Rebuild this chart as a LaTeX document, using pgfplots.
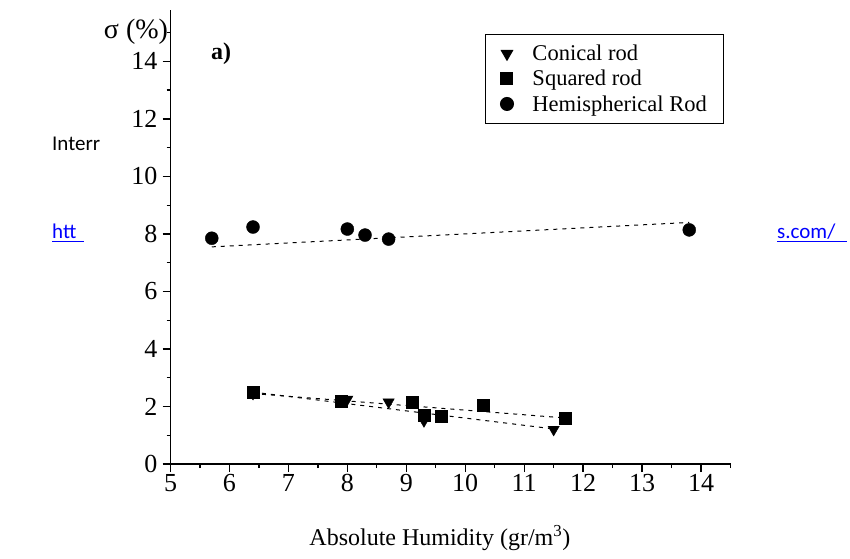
\documentclass[border=0pt]{standalone}
\usepackage{pgfplots}
\pgfplotsset{compat=1.18}
\usepackage{fontspec}
\setmainfont{Liberation Serif}
\newfontfamily\calibri{Carlito}
\definecolor{linkblue}{RGB}{0,0,255}
\begin{document}
\begin{tikzpicture}
\useasboundingbox (0pt,0pt) rectangle (850pt,558pt);
% page text partly hidden behind the chart
\node[anchor=base west, inner sep=0, font=\calibri\fontsize{21}{25}\selectfont] at (52pt,408pt) {Interr};
\node[anchor=base west, inner sep=0, font=\calibri\fontsize{21}{25}\selectfont, text=linkblue] at (52pt,320pt) {htt};
\draw[linkblue, line width=1.5pt] (52pt,316.5pt) -- (84pt,316.5pt);
\node[anchor=base west, inner sep=0, font=\calibri\fontsize{21}{25}\selectfont, text=linkblue] at (777pt,320pt) {s.com/};
\draw[linkblue, line width=1.5pt] (777pt,316.5pt) -- (847pt,316.5pt);
\begin{axis}[
  at={(170.5pt,94pt)}, anchor=south west,
  scale only axis, width=560pt, height=454.4pt,
  xmin=5, xmax=14.5, ymin=0, ymax=15.8,
  axis lines=left, axis line style={-, line width=1.4pt},
  xtick={5,6,...,14}, ytick={0,2,...,14},
  minor xtick={5.5,6.5,...,14.5}, minor ytick={1,3,...,15},
  tick align=outside, major tick length=8pt, minor tick length=4pt,
  every tick/.style={black, line width=1.3pt},
  /pgf/number format/assume math mode=true,
  tick label style={font=\fontsize{26}{30}\selectfont, inner sep=2pt},
  yticklabel style={xshift=-3pt},
  xlabel={Absolute Humidity (gr/m\textsuperscript{3})},
  xlabel style={at={(axis description cs:0.481,-0.163)}, anchor=center, font=\fontsize{24}{28}\selectfont},
  legend style={at={(axis description cs:0.5616,0.947)}, anchor=north west, draw=black, line width=1pt,
    font=\fontsize{22.5}{26}\selectfont, inner xsep=15pt, inner ysep=9pt, row sep=4pt,
    /tikz/every odd column/.append style={column sep=17pt}},
  legend cell align=left,
  clip=false,
]
\addplot[only marks, mark=triangle*, mark size=6.5pt, mark options={rotate=180, fill=black, draw=black}] coordinates {
  (6.4,2.45) (8.0,2.25) (8.7,2.15) (9.3,1.5) (11.5,1.2)
};
\addlegendentry{Conical rod}
\addplot[only marks, mark=square*, mark size=6pt, mark options={fill=black, draw=black}] coordinates {
  (6.4,2.5) (7.9,2.2) (9.1,2.15) (9.3,1.7) (9.6,1.65) (10.3,2.03) (11.7,1.6)
};
\addlegendentry{Squared rod}
\addplot[only marks, mark=*, mark size=6.5pt, mark options={fill=black, draw=black}] coordinates {
  (5.7,7.85) (6.4,8.24) (8.0,8.17) (8.3,7.96) (8.7,7.82) (13.8,8.14)
};
\addlegendentry{Hemispherical Rod}
\addplot[forget plot, black, line width=1pt, dash pattern=on 4pt off 5pt] coordinates {(5.7,7.55) (13.8,8.4)};
\addplot[forget plot, black, line width=1pt, dash pattern=on 4pt off 5pt] coordinates {(6.4,2.5) (11.5,1.22)};
\addplot[forget plot, black, line width=1pt, dash pattern=on 4pt off 5pt] coordinates {(6.4,2.45) (11.7,1.6)};
\end{axis}
\node[font=\fontsize{28}{32}\selectfont] at (136pt,526pt) {σ (\%)};
\node[font=\bfseries\fontsize{24}{28}\selectfont] at (221pt,504pt) {a)};
\end{tikzpicture}
\end{document}
